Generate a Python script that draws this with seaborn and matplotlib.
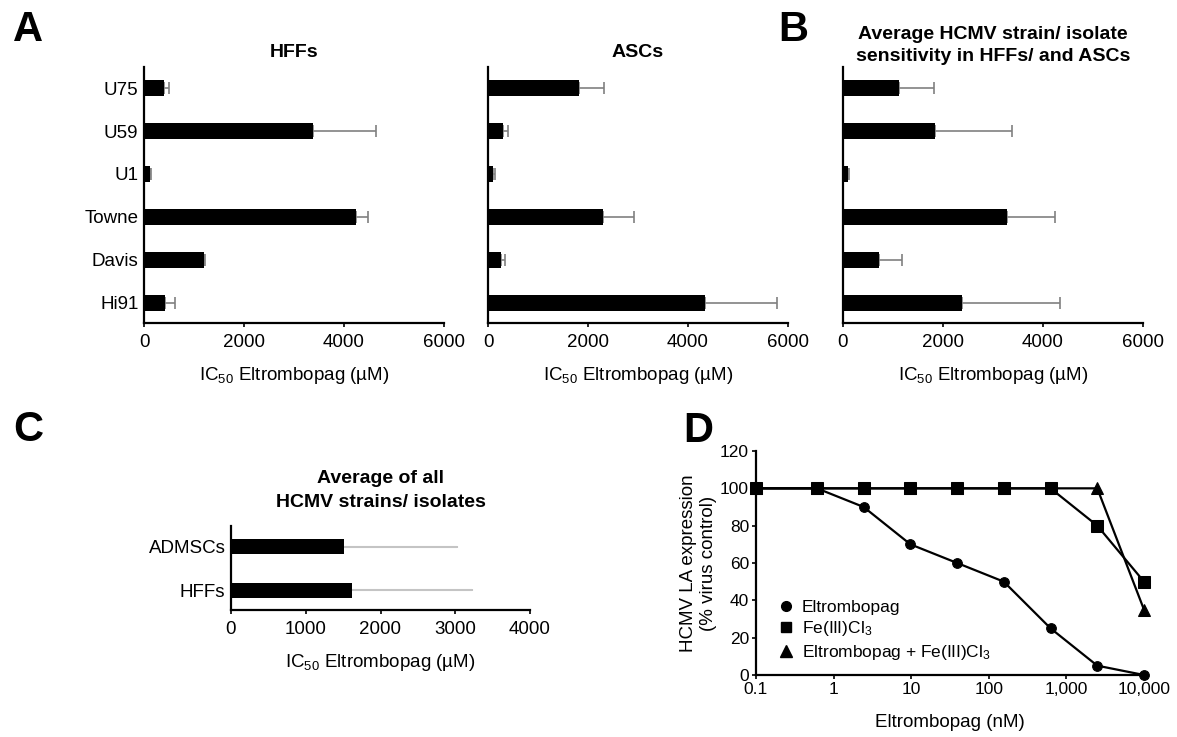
import matplotlib
matplotlib.use('Agg')
import matplotlib.pyplot as plt
from matplotlib.lines import Line2D
import seaborn as sns

sns.set_style('ticks')
plt.rcParams['font.family'] = ['Liberation Sans', 'DejaVu Sans']
plt.rcParams['mathtext.fontset'] = 'custom'
plt.rcParams['mathtext.rm'] = 'Liberation Sans'
plt.rcParams['mathtext.it'] = 'Liberation Sans:italic'
plt.rcParams['mathtext.bf'] = 'Liberation Sans:bold'
plt.rcParams['text.color'] = 'black'
plt.rcParams['axes.labelcolor'] = 'black'
plt.rcParams['xtick.color'] = 'black'
plt.rcParams['ytick.color'] = 'black'

# Dados - painel A / B
strains = ['U75', 'U59', 'U1', 'Towne', 'Davis', 'Hi91']
hff_ic50 = [390, 3370, 110, 4240, 1190, 420]
hff_err = [100, 1260, 20, 240, 20, 190]
asc_ic50 = [1820, 290, 100, 2300, 250, 4330]
asc_err = [490, 100, 30, 620, 80, 1450]
avg_ic50 = [1110, 1840, 100, 3280, 720, 2380]
avg_err = [700, 1530, 20, 960, 460, 1950]

# Dados - painel C
cells = ['ADMSCs', 'HFFs']
cell_ic50 = [1515, 1620]
cell_err = [1515, 1600]

# Dados - painel D
conc_nm = [0.1, 0.61, 2.44, 9.77, 39.1, 156, 625, 2500, 10000]
eltrombopag = [100, 100, 90, 70, 60, 50, 25, 5, 0]
fecl3 = [100, 100, 100, 100, 100, 100, 100, 80, 50]
combo = [100, 100, 100, 100, 100, 100, 100, 100, 35]
xtick_vals = [0.1, 1, 10, 100, 1000, 10000]
xtick_labels = ['0.1', '1', '10', '100', '1,000', '10,000']

W, H = 1177, 737
fig = plt.figure(figsize=(W / 100, H / 100), dpi=100)


def box(l, t, r, b):
    return [l / W, 1 - b / H, (r - l) / W, (b - t) / H]


xlab = 'IC$_{50}$ Eltrombopag (µM)'


def bar_panel(ax, cats, vals, errs, xmax, xstep, ylim, ecolor, capsize, elw,
              show_labels=True, width=0.37):
    sns.barplot(x=vals, y=cats, orient='h', color='black', width=width,
                errorbar=None, ax=ax, saturation=1, linewidth=0, zorder=2)
    ax.errorbar(vals, range(len(cats)), xerr=[[0] * len(errs), errs], fmt='none',
                ecolor=ecolor, elinewidth=elw, capsize=capsize, capthick=elw, zorder=1)
    ax.set_xlim(0, xmax)
    ax.set_ylim(*ylim)
    ax.set_xticks(range(0, xmax + 1, xstep))
    ax.set_xlabel(xlab, fontsize=13.5, labelpad=10)
    ax.set_ylabel('')
    for s in ['top', 'right']:
        ax.spines[s].set_visible(False)
    for s in ['left', 'bottom']:
        ax.spines[s].set_linewidth(1.6)
        ax.spines[s].set_color('black')
        ax.spines[s].set_zorder(3)
    ax.tick_params(axis='y', length=0, labelsize=13.5, pad=4, labelleft=show_labels)
    ax.tick_params(axis='x', length=3, width=1.2, labelsize=13.5, pad=5)


ax1 = fig.add_axes(box(144, 67, 444, 323))
bar_panel(ax1, strains, hff_ic50, hff_err, 6000, 2000, (5.47, -0.49), '#808080', 4, 1.2)
ax1.set_title('HFFs', fontsize=14, fontweight='bold', pad=7)

ax2 = fig.add_axes(box(488, 67, 788, 323))
bar_panel(ax2, strains, asc_ic50, asc_err, 6000, 2000, (5.47, -0.49), '#808080', 4, 1.2,
          show_labels=False)
ax2.set_title('ASCs', fontsize=14, fontweight='bold', pad=7)

ax3 = fig.add_axes(box(843, 67, 1143, 323))
bar_panel(ax3, strains, avg_ic50, avg_err, 6000, 2000, (5.47, -0.49), '#808080', 4, 1.2,
          show_labels=False)
ax3.set_title('Average HCMV strain/ isolate\nsensitivity in HFFs/ and ASCs',
              fontsize=14, fontweight='bold', pad=4, linespacing=1.4)

ax4 = fig.add_axes(box(231, 526, 530, 610))
bar_panel(ax4, cells, cell_ic50, cell_err, 4000, 1000, (1.46, -0.48), '#c4c4c4', 1, 1.5,
          width=0.35)
ax4.set_title('Average of all\nHCMV strains/ isolates', fontsize=14, fontweight='bold',
              pad=14, linespacing=1.5)

# Painel D
ax5 = fig.add_axes(box(756, 451, 1144, 675))
sns.lineplot(x=conc_nm, y=eltrombopag, marker='o', markersize=7, color='black',
             linewidth=1.6, markeredgecolor='black', ax=ax5, zorder=3)
sns.lineplot(x=conc_nm, y=combo, marker='^', markersize=8.5, color='black',
             linewidth=1.6, markeredgecolor='black', ax=ax5, zorder=4)
sns.lineplot(x=conc_nm, y=fecl3, marker='s', markersize=8.5, color='black',
             linewidth=1.6, markeredgecolor='black', ax=ax5, zorder=5)
ax5.set_xscale('log')
ax5.set_xlim(0.1, 10000)
ax5.set_ylim(0, 120)
ax5.set_xticks(xtick_vals)
ax5.set_xticklabels(xtick_labels)
ax5.minorticks_off()
ax5.set_yticks(range(0, 121, 20))
for s in ['top', 'right']:
    ax5.spines[s].set_visible(False)
for s in ['left', 'bottom']:
    ax5.spines[s].set_linewidth(1.6)
    ax5.spines[s].set_color('black')
ax5.tick_params(length=3, width=1.2, labelsize=12.5, pad=2)
ax5.set_xlabel('Eltrombopag (nM)', fontsize=13.5, labelpad=12)
ax5.set_ylabel('HCMV LA expression\n(% virus control)', fontsize=13.5, labelpad=2,
               linespacing=1.25)
for c in ax5.get_children():
    if isinstance(c, Line2D):
        c.set_clip_on(False)

handles = [Line2D([], [], marker='o', ls='none', color='black', markersize=7),
           Line2D([], [], marker='s', ls='none', color='black', markersize=6.5),
           Line2D([], [], marker='^', ls='none', color='black', markersize=8)]
ax5.legend(handles, ['Eltrombopag', 'Fe(III)Cl$_3$', 'Eltrombopag + Fe(III)Cl$_3$'],
           loc='upper left', bbox_to_anchor=(0.055, 0.335), frameon=False,
           fontsize=12.5, handlelength=1.0, handletextpad=0.4, labelspacing=0.25,
           borderpad=0, borderaxespad=0)

# Letras dos paineis
for letter, (x, y) in {'A': (13, 10), 'B': (778, 10), 'C': (13, 410), 'D': (683, 411)}.items():
    fig.text(x / W, 1 - y / H, letter, fontsize=30, fontweight='bold', va='top', ha='left')

fig.savefig('out.png', dpi=100)
